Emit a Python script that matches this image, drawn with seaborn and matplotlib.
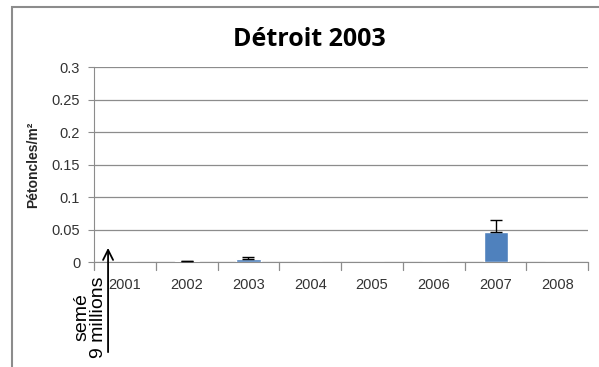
import matplotlib.pyplot as plt
from matplotlib.patches import Rectangle
import numpy as np
import pandas as pd
import seaborn as sns

years = ['2001', '2002', '2003', '2004', '2005', '2006', '2007', '2008']
density = [0.0, 0.001, 0.004, 0.0, 0.0, 0.0, 0.046, 0.0]
errors = [0.0, 0.001, 0.004, 0.0, 0.0, 0.0, 0.019, 0.0]

df = pd.DataFrame({'annee': years, 'densite': density})

sns.set_style('white')
plt.rcParams['font.family'] = ['Liberation Sans', 'DejaVu Sans']

fig = plt.figure(figsize=(5.99, 3.67), dpi=100)
ax = fig.add_axes([0.157, 0.286, 0.825, 0.531])

sns.barplot(x='annee', y='densite', data=df, color='#4f81bd', width=0.39,
            saturation=1, ax=ax, zorder=3)
# error bars only where there is something to show
idx = [i for i, e in enumerate(errors) if e > 0]
ax.errorbar(idx, np.array(density)[idx],
            yerr=[[0] * len(idx), np.array(errors)[idx]],
            fmt='none', ecolor='black', elinewidth=1, capsize=4, zorder=4)

ax.set_ylim(0, 0.3)
ax.set_yticks([0, 0.05, 0.1, 0.15, 0.2, 0.25, 0.3])
ax.set_yticklabels(['0', '0.05', '0.1', '0.15', '0.2', '0.25', '0.3'])
ax.set_xlim(-0.5, len(years) - 0.5)
ax.yaxis.grid(True, color='#8c8c8c', linewidth=0.9, zorder=0)
ax.set_axisbelow(True)
for s in ['top', 'right']:
    ax.spines[s].set_visible(False)
ax.spines['left'].set_color('#8c8c8c')
ax.spines['bottom'].set_color('#8c8c8c')
ax.tick_params(axis='y', left=True, length=4, color='#8c8c8c', labelsize=10.5,
               labelcolor='#333333', pad=6)
ax.tick_params(axis='x', bottom=False, labelsize=10.5, labelcolor='#333333', pad=8)
# category separators on the x axis
for i in range(len(years) + 1):
    ax.plot([i - 0.5, i - 0.5], [0, -0.013], color='#8c8c8c', lw=0.9,
            clip_on=False)

ax.set_xlabel('')
ax.set_ylabel('Pétoncles/m²', fontsize=10, fontweight='bold', labelpad=8)
fig.text(309 / 599, 1 - 40 / 367, 'Détroit 2003', fontsize=18,
         fontweight='bold', ha='center', va='center', color='black',
         family=['Open Sans', 'DejaVu Sans'])

# seeding arrow and note
ax.annotate('', xy=(-0.273, 0.026), xytext=(-0.273, -0.143),
            arrowprops=dict(arrowstyle='->', color='black', lw=1.3,
                            mutation_scale=18),
            annotation_clip=False)
ax.text(-0.29, -0.147, 'semé\n9 millions', rotation=90, ha='right',
        va='bottom', fontsize=14, color='black', linespacing=0.95,
        multialignment='center', clip_on=False)

# chart frame
fig.patches.append(Rectangle((0.02, -0.05), 0.985, 1.03,
                             transform=fig.transFigure, fill=False,
                             edgecolor='#8c8c8c', lw=1.5))

fig.savefig('out.png', dpi=100)
